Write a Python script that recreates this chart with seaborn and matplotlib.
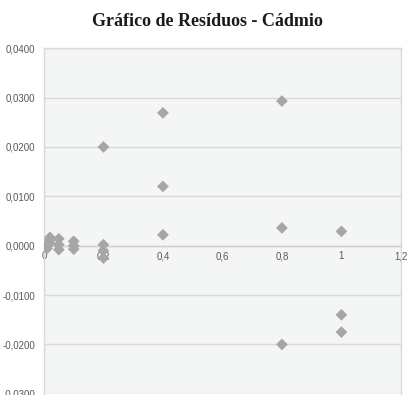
import matplotlib
matplotlib.use("Agg")
import matplotlib.pyplot as plt
import matplotlib.ticker as mticker
import seaborn as sns
import pandas as pd

# Concentration levels (x) and residuals (y) for the cadmium calibration
concentracao = [0.01, 0.01, 0.01, 0.02, 0.02, 0.02,
                0.05, 0.05, 0.05, 0.1, 0.1, 0.1,
                0.2, 0.2, 0.2, 0.2,
                0.4, 0.4, 0.4,
                0.8, 0.8, 0.8,
                1.0, 1.0, 1.0]
residuo = [0.0002, -0.0001, -0.0006, 0.0017, 0.0012, 0.0005,
           0.0014, 0.0002, -0.0008, 0.0009, 0.0000, -0.0007,
           0.0200, 0.0002, -0.0010, -0.0025,
           0.0269, 0.0120, 0.0022,
           0.0293, 0.0036, -0.0200,
           0.0029, -0.0140, -0.0175]

x_ticks = [0, 0.2, 0.4, 0.6, 0.8, 1.0, 1.2]
y_ticks = [-0.03, -0.02, -0.01, 0.0, 0.01, 0.02, 0.03, 0.04]
titulo = "Gráfico de Resíduos - Cádmio"

df = pd.DataFrame({"Concentração": concentracao, "Resíduo": residuo})

sns.set_style("white")
plt.rcParams["font.family"] = ["Liberation Sans", "DejaVu Sans"]

fig = plt.figure(figsize=(4.07, 3.95), dpi=100)
ax = fig.add_axes([0.108, 0.003, 0.877, 0.875])
ax.set_facecolor("#f4f5f5")

sns.scatterplot(data=df, x="Concentração", y="Resíduo", marker="D",
                color="#a6a6a6", edgecolor="none", s=36, ax=ax, zorder=3)

ax.set_xlim(0, 1.2)
ax.set_ylim(-0.03, 0.04)
ax.set_xticks(x_ticks)
ax.set_yticks(y_ticks)

fmt_x = mticker.FuncFormatter(lambda v, p: f"{v:g}".replace(".", ","))
fmt_y = mticker.FuncFormatter(lambda v, p: f"{v:.4f}".replace(".", ","))
ax.xaxis.set_major_formatter(fmt_x)
ax.yaxis.set_major_formatter(fmt_y)

ax.grid(axis="y", color="#d9d9d9", linewidth=1.0, zorder=0)
ax.set_axisbelow(True)

for side in ["left", "right", "top"]:
    ax.spines[side].set_color("#d9d9d9")
    ax.spines[side].set_linewidth(1.0)
ax.spines["bottom"].set_position(("data", 0))
ax.spines["bottom"].set_color("#d0d0d0")
ax.spines["bottom"].set_linewidth(1.0)

ax.tick_params(axis="x", direction="out", length=3, width=0.8, color="#c8c8c8",
               labelsize=7, labelcolor="#595959", pad=1)
ax.tick_params(axis="y", length=0, labelsize=7, labelcolor="#595959", pad=6)
ax.set_xlabel("")
ax.set_ylabel("")

fig.text(0.51, 0.945, titulo, ha="center", va="center",
         fontsize=13, fontweight="bold", family="Liberation Serif", color="#1a1a1a")

fig.savefig("out.png", dpi=100, facecolor="white")
